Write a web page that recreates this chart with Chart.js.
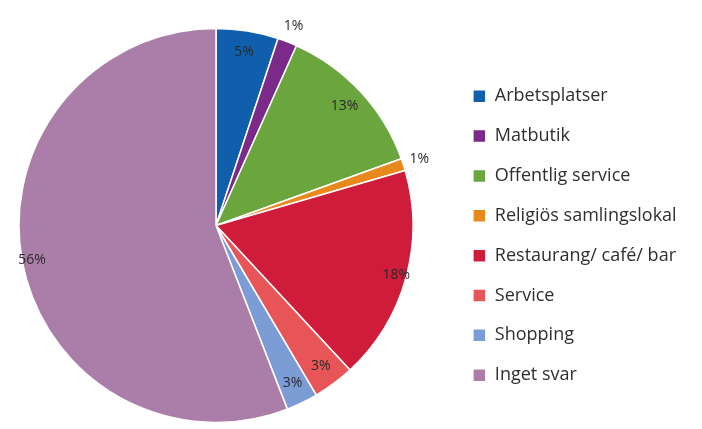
<!DOCTYPE html>
<html>
<head>
<meta charset="utf-8">
<script src="https://cdn.jsdelivr.net/npm/chart.js@4/dist/chart.umd.min.js"></script>
<style>
  html, body { margin: 0; padding: 0; background: #fff; }
  #wrap { position: relative; width: 702px; height: 429px; overflow: hidden; }
  #wrap canvas { position: absolute; left: -19px; top: 0; }
</style>
</head>
<body>
<div id="wrap"><canvas id="pie" width="760" height="429"></canvas></div>
<script>
const categories = [
  "Arbetsplatser",
  "Matbutik",
  "Offentlig service",
  "Religiös samlingslokal",
  "Restaurang/ café/ bar",
  "Service",
  "Shopping",
  "Inget svar"
];
// slice shares (percent)
const shares = [5.1, 1.6, 12.8, 1.0, 17.6, 3.4, 2.6, 55.9];
// percent labels printed on the chart
const shownPercent = ["5%", "1%", "13%", "1%", "18%", "3%", "3%", "56%"];
const sliceColors = ["#0f5fad", "#7b2a8a", "#6aa53d", "#e8891e", "#d01c3b", "#e85558", "#7b9cd5", "#ab7ea9"];

// where the legend box should start on the canvas, so the pie centre sits right
const legendLeft = 470;

// percent labels: inside near the rim, tiny slices just outside
const pieLabels = {
  id: "pieLabels",
  afterDatasetsDraw(chart) {
    const ctx = chart.ctx;
    const arcs = chart.getDatasetMeta(0).data;
    ctx.save();
    ctx.font = "14px 'Open Sans'";
    ctx.fillStyle = "#2a2a2a";
    ctx.textAlign = "center";
    ctx.textBaseline = "middle";
    arcs.forEach((arc, i) => {
      const { x, y, startAngle, endAngle, outerRadius } =
        arc.getProps(["x", "y", "startAngle", "endAngle", "outerRadius"], true);
      const mid = (startAngle + endAngle) / 2;
      let k = 0.89;
      if (shares[i] < 2) k = 1.085;
      else if (shares[i] > 15) k = 0.95;
      ctx.fillText(shownPercent[i], x + Math.cos(mid) * outerRadius * k, y + Math.sin(mid) * outerRadius * k);
    });
    ctx.restore();
  }
};

const canvas = document.getElementById("pie");
const chart = new Chart(canvas, {
  type: "pie",
  data: {
    labels: categories,
    datasets: [
      {
        data: shares,
        backgroundColor: sliceColors,
        borderColor: "#ffffff",
        borderWidth: 1.5
      }
    ]
  },
  options: {
    responsive: false,
    animation: false,
    radius: 197,
    layout: { padding: { top: 28, bottom: 6, left: 0, right: 0 } },
    plugins: {
      tooltip: { enabled: false },
      legend: {
        position: "right",
        align: "center",
        title: { display: true, text: " ", padding: 3 },
        labels: {
          boxWidth: 13,
          boxHeight: 13,
          padding: 21.86,
          color: "#2f2f2f",
          font: { family: "Open Sans", size: 18 }
        }
      }
    }
  },
  plugins: [pieLabels]
});

// push the legend in from the right edge until its left side lands on legendLeft
chart.options.layout.padding.right = canvas.width - legendLeft - chart.legend.width;
chart.update();
</script>
</body>
</html>
